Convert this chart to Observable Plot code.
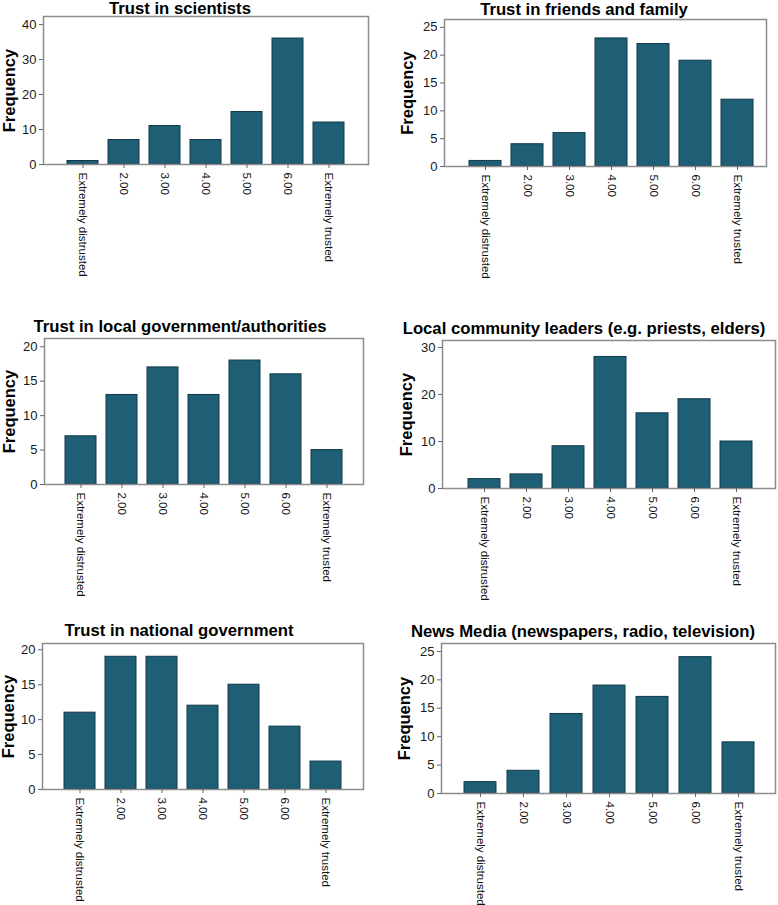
<!DOCTYPE html>
<html><head><meta charset="utf-8">
<script src="https://cdn.jsdelivr.net/npm/d3@7"></script>
<script src="https://cdn.jsdelivr.net/npm/@observablehq/plot@0.6"></script>
<style>
html,body{margin:0;padding:0;background:#fff;overflow:hidden;}
#wrap{position:relative;width:778px;height:905px;overflow:hidden;font-family:"Liberation Sans",Arial,sans-serif;}
.title{position:absolute;width:420px;text-align:center;font-weight:bold;font-size:16.7px;line-height:14px;color:#000;white-space:nowrap;z-index:2;}
#wrap svg{position:absolute;}
</style></head><body><div id="wrap"></div>
<script>
// ---- data ----
const categories = ["Extremely distrusted", "2.00", "3.00", "4.00", "5.00", "6.00", "Extremely trusted"];
const titles = [
  "Trust in scientists",
  "Trust in friends and family",
  "Trust in local government/authorities",
  "Local community leaders (e.g. priests, elders)",
  "Trust in national government",
  "News Media (newspapers, radio, television)"
];
const scientists       = [1, 7, 11, 7, 15, 36, 12];
const friendsFamily    = [1, 4, 6, 23, 22, 19, 12];
const localGovernment  = [7, 13, 17, 13, 18, 16, 5];
const communityLeaders = [2, 3, 9, 28, 16, 19, 10];
const nationalGov      = [11, 19, 19, 12, 15, 9, 4];
const newsMedia        = [2, 4, 14, 19, 17, 24, 9];
const ticksBy10to40 = [0, 10, 20, 30, 40];
const ticksBy5to25  = [0, 5, 10, 15, 20, 25];
const ticksBy5to20  = [0, 5, 10, 15, 20];
const ticksBy10to30 = [0, 10, 20, 30];
const yLabel = "Frequency";

// ---- layout (positions / styles) ----
const panels = [
  {values: scientists,       ticks: ticksBy10to40, ymax: 42.3, col: 0,   L: 43,  R: 368, T: 16,  B: 164, labX: 9,   tx: 180, tb: 15.2, po: 0.51, align: 0.5},
  {values: friendsFamily,    ticks: ticksBy5to25,  ymax: 26.4, col: 388, L: 444, R: 766, T: 19,  B: 166, labX: 407, tx: 584, tb: 15.4, po: 0.40, align: 0.65},
  {values: localGovernment,  ticks: ticksBy5to20,  ymax: 21.2, col: 0,   L: 44,  R: 363, T: 338, B: 484, labX: 9,   tx: 180, tb: 333,  po: 0.50, align: 0.5},
  {values: communityLeaders, ticks: ticksBy10to30, ymax: 31.5, col: 388, L: 442, R: 775, T: 340, B: 488, labX: 406, tx: 584, tb: 335,  po: 0.50, align: 0.52},
  {values: nationalGov,      ticks: ticksBy5to20,  ymax: 20.9, col: 0,   L: 42,  R: 363, T: 643, B: 789, labX: 8.5, tx: 179, tb: 637,  po: 0.50, align: 0.5},
  {values: newsMedia,        ticks: ticksBy5to25,  ymax: 26.4, col: 388, L: 441, R: 775, T: 643, B: 793, labX: 404, tx: 583, tb: 638,  po: 0.50, align: 0.52}
];

const wrap = document.getElementById("wrap");
const FONT = "'Liberation Sans', Arial, sans-serif";
const MT = 4, MB = 112, W = 390;

panels.forEach((p, i) => {
  const data = categories.map((c, j) => ({cat: c, n: p.values[j]}));
  const svg = Plot.plot({
    width: W,
    height: MT + (p.B - p.T) + MB,
    marginLeft: p.L - p.col,
    marginRight: p.col + W - p.R,
    marginTop: MT,
    marginBottom: MB,
    style: {fontFamily: FONT, background: "transparent", overflow: "visible"},
    x: {type: "band", domain: categories, paddingInner: 0.25, paddingOuter: p.po, align: p.align, label: null},
    y: {domain: [0, p.ymax], label: null},
    marks: [
      Plot.barY(data, {x: "cat", y: "n", fill: "#1f5f75", stroke: "#11394a", strokeWidth: 1}),
      Plot.frame({stroke: "#8c8c8c", strokeWidth: 1.5}),
      Plot.axisY({ticks: p.ticks, tickSize: 4, tickPadding: 3, fontSize: 13, stroke: "#666", fill: "#1a1a1a", label: null}),
      Plot.axisX({tickSize: 4, tickPadding: 4, tickRotate: 90, fontSize: 11.5, stroke: "#666", fill: "#111", label: null}),
      Plot.text([yLabel], {frameAnchor: "left", dx: p.labX - p.L, rotate: -90, textAnchor: "middle", fontSize: 16.5, fontWeight: "bold", fill: "#000"})
    ]
  });
  svg.style.left = p.col + "px";
  svg.style.top = (p.T - MT) + "px";
  wrap.appendChild(svg);

  const t = document.createElement("div");
  t.className = "title";
  t.textContent = titles[i];
  t.style.left = (p.tx - 210) + "px";
  t.style.top = (p.tb - 12.8) + "px";
  wrap.appendChild(t);
});
</script>
</body></html>
